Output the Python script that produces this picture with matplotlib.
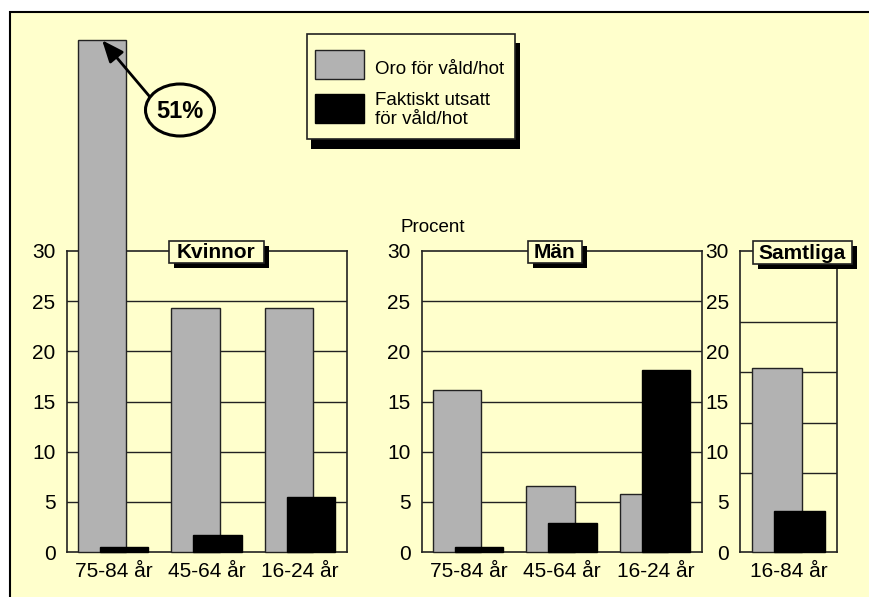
import numpy as np
import matplotlib
matplotlib.use("Agg")
import matplotlib.pyplot as plt
from matplotlib.patches import Rectangle, Ellipse

plt.rcParams['font.family'] = ['Liberation Sans', 'DejaVu Sans']

# data (procent)
kv_cats = ['75-84 år', '45-64 år', '16-24 år']
kv_oro = [51, 24.3, 24.3]
kv_utsatt = [0.45, 1.7, 5.45]

man_cats = ['75-84 år', '45-64 år', '16-24 år']
man_oro = [16.1, 6.55, 5.75]
man_utsatt = [0.45, 2.9, 18.15]

tot_cats = ['16-84 år']
tot_oro = [18.3]
tot_utsatt = [4.1]

yticks = [0, 5, 10, 15, 20, 25, 30]
kv_grid = [5, 10, 15, 20, 25]
man_grid = [5, 10, 15, 20, 25]
tot_grid = [7.9, 12.9, 17.9, 22.9]

W, H = 869, 597
BG = '#FFFFCC'
GRAY = '#B2B2B2'
LINE = '#222222'

fig = plt.figure(figsize=(W / 100, H / 100), dpi=100)
fig.patch.set_facecolor('white')


def fx(x):
    return x / W


def fy(y):
    return 1 - y / H


def prect(x0, y0, x1, y1, **kw):
    r = Rectangle((fx(x0), fy(y1)), fx(x1) - fx(x0), fy(y0) - fy(y1),
                  transform=fig.transFigure, **kw)
    fig.patches.append(r)
    return r


# outer frame
prect(10, 12, W + 20, H + 20, facecolor=BG, edgecolor='black', lw=1.5, zorder=-5)


def panel(x0, x1, cats, oro, utsatt, grid):
    ax = fig.add_axes([fx(x0), fy(552), fx(x1) - fx(x0), fy(251) - fy(552)])
    ax.set_zorder(1)
    ax.set_facecolor('none')
    x = np.arange(len(cats))
    for g in grid:
        ax.axhline(g, color=LINE, lw=1, zorder=1)
    ax.bar(x - 0.12, oro, width=0.52, color=GRAY, edgecolor=LINE, lw=1,
           zorder=3, clip_on=False)
    ax.bar(x + 0.115, utsatt, width=0.52, color='black', edgecolor='black',
           lw=1, zorder=4, clip_on=False)
    ax.set_xlim(-0.5, len(cats) - 0.5)
    ax.set_ylim(0, 30)
    ax.set_yticks(yticks)
    ax.set_xticks(x)
    ax.set_xticklabels(cats)
    ax.tick_params(length=0, labelsize=15, pad=8)
    ax.tick_params(axis='x', pad=7)
    for s in ax.spines.values():
        s.set_color(LINE)
        s.set_linewidth(1.2)
        s.set_zorder(2)
    return ax


ax1 = panel(66.7, 346.7, kv_cats, kv_oro, kv_utsatt, kv_grid)
ax2 = panel(421.7, 702, man_cats, man_oro, man_utsatt, man_grid)
ax3 = panel(740, 836.7, tot_cats, tot_oro, tot_utsatt, tot_grid)


def label_box(x0, y0, x1, y1, text, size=15):
    prect(x0 + 5, y0 + 5, x1 + 5, y1 + 5, facecolor='black', edgecolor='none', zorder=5)
    prect(x0, y0, x1, y1, facecolor=BG, edgecolor=LINE, lw=1.2, zorder=6)
    fig.text(fx((x0 + x1) / 2), fy((y0 + y1) / 2 + 1), text, ha='center', va='center',
             fontsize=size, fontweight='bold', zorder=7)


label_box(168.7, 240.7, 264, 263.3, 'Kvinnor')
label_box(527.7, 240.7, 581.7, 263.3, 'Män')
label_box(752.7, 241, 852.3, 264, 'Samtliga')

fig.text(fx(400), fy(232), 'Procent', fontsize=13.5, ha='left', va='baseline')

# legend
prect(311, 43, 520, 149, facecolor='black', edgecolor='none', zorder=5)
prect(307, 34, 515, 139, facecolor=BG, edgecolor=LINE, lw=1.2, zorder=6)
prect(315, 50, 364, 79, facecolor=GRAY, edgecolor=LINE, lw=1, zorder=7)
prect(315, 94, 364, 123, facecolor='black', edgecolor='black', lw=1, zorder=7)
fig.text(fx(375), fy(69.5), 'Oro för våld/hot', fontsize=13.5, va='center', zorder=8)
fig.text(fx(375), fy(110), 'Faktiskt utsatt\nför våld/hot', fontsize=13.5,
         va='center', linespacing=1.2, zorder=8)

# 51% callout
ell = Ellipse((fx(180), fy(110)), fx(69), 52 / H, transform=fig.transFigure,
              facecolor=BG, edgecolor='black', lw=2.2, zorder=9)
fig.patches.append(ell)
fig.text(fx(180), fy(111), '51%', fontsize=17, fontweight='bold',
         ha='center', va='center', zorder=10)
ax1.annotate('', xy=(-0.12, kv_oro[0]), xycoords='data',
             xytext=(fx(151.7), fy(99)), textcoords='figure fraction',
             arrowprops=dict(arrowstyle='-|>,head_length=0.6,head_width=0.25',
                             color='black', lw=2,
                             mutation_scale=22, shrinkA=0, shrinkB=0),
             annotation_clip=False, zorder=10)

fig.savefig('out.png', dpi=100, facecolor=fig.get_facecolor())
